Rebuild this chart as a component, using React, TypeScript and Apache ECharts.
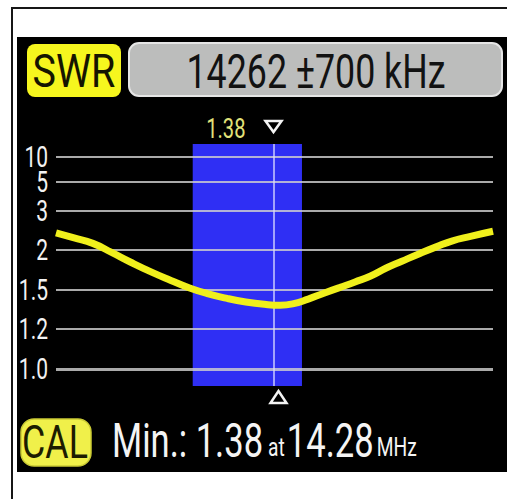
import React, { useEffect, useRef } from "react";
import * as echarts from "echarts";

// SWR axis: tick values, their labels and their heights on the analyser's display scale
const swrTicks = [1.0, 1.2, 1.5, 2, 3, 5, 10];
const swrTickLabels = ["1.0", "1.2", "1.5", "2", "3", "5", "10"];
const swrTickHeights = [0, 40, 79, 119, 158, 187, 212];

// Measured SWR curve
const freqMHz = [
  13.562, 13.62, 13.68, 13.74, 13.8, 13.87, 13.93, 13.99, 14.05, 14.11, 14.17, 14.23,
  14.28, 14.32, 14.37, 14.42, 14.47, 14.52, 14.57, 14.62, 14.67, 14.73, 14.78, 14.83,
  14.89, 14.962,
];
const swrValues = [
  2.44, 2.31, 2.17, 1.97, 1.85, 1.72, 1.62, 1.525, 1.47, 1.435, 1.408, 1.39,
  1.383, 1.393, 1.43, 1.475, 1.53, 1.6, 1.675, 1.775, 1.86, 1.96, 2.08, 2.23,
  2.35, 2.48,
];

const bandStartMHz = 14.0;
const bandEndMHz = 14.35;
const centerKHz = 14262;
const spanKHz = 700;
const markerSwr = 1.38;
const minSwr = 1.38;
const minFreqMHz = 14.28;

function toScale(v: number): number {
  for (let i = 0; i < swrTicks.length - 1; i++) {
    if (v <= swrTicks[i + 1] || i === swrTicks.length - 2) {
      const t0 = swrTicks[i];
      const t1 = swrTicks[i + 1];
      return (
        swrTickHeights[i] +
        ((v - t0) / (t1 - t0)) * (swrTickHeights[i + 1] - swrTickHeights[i])
      );
    }
  }
  return 0;
}

const FONT = "Roboto";

function txt(
  text: string,
  x: number,
  y: number,
  fs: number,
  color: string,
  align: string,
  sx = 0.75
) {
  return {
    type: "text",
    x,
    y,
    scaleX: sx,
    z: 30,
    silent: true,
    style: {
      text,
      fontSize: fs,
      fontFamily: FONT,
      fill: color,
      align,
      verticalAlign: "middle",
      textAlign: align,
      textVerticalAlign: "middle",
    },
  };
}

export default function App() {
  const ref = useRef<HTMLDivElement>(null);

  useEffect(() => {
    if (!ref.current) return;
    const chart = echarts.init(ref.current, null, { renderer: "svg" });
    const xMin = (centerKHz - spanKHz) / 1000;
    const xMax = (centerKHz + spanKHz) / 1000;
    const centerMHz = centerKHz / 1000;

    chart.setOption({
      animation: false,
      backgroundColor: "#ffffff",
      grid: { left: 56, right: 14, top: 144, bottom: 113 },
      xAxis: { type: "value", min: xMin, max: xMax, show: false },
      yAxis: { type: "value", min: -17, max: 225, show: false },
      series: [
        {
          type: "line",
          data: [],
          z: 1,
          markArea: {
            silent: true,
            z: 1,
            itemStyle: { color: "#2f2ff4" },
            data: [[{ xAxis: bandStartMHz }, { xAxis: bandEndMHz }]],
          },
          markLine: {
            silent: true,
            z: 3,
            symbol: "none",
            label: { show: false },
            data: [
              ...swrTicks.map((t, i) => ({
                yAxis: toScale(t),
                lineStyle: {
                  color: "#d0d0d0",
                  width: i === 0 ? 3 : 2,
                  type: "solid",
                  opacity: 0.82,
                },
              })),
              {
                xAxis: centerMHz,
                lineStyle: { color: "#dcdcff", width: 1.5, type: "solid", opacity: 0.9 },
              },
            ],
          },
        },
        {
          type: "line",
          z: 10,
          smooth: 0.5,
          symbol: "none",
          lineStyle: { color: "#f0f01c", width: 7 },
          data: freqMHz.map((f, i) => [f, toScale(swrValues[i])]),
        },
      ],
    });

    const ctx = document.createElement("canvas").getContext("2d")!;
    const measure = (t: string, fs: number) => {
      ctx.font = `${fs}px ${FONT}`;
      return ctx.measureText(t).width;
    };

    const cx = (chart.convertToPixel({ gridIndex: 0 }, [centerMHz, 0]) as number[])[0];
    const yLabelEls = swrTicks.map((t, i) => {
      const py = (chart.convertToPixel({ gridIndex: 0 }, [xMin, toScale(t)]) as number[])[1];
      return txt(swrTickLabels[i], 48, py, 30, "#f2f2f2", "right", 0.7);
    });

    // bottom line
    const sBig = 0.72;
    const sSmall = 0.74;
    const big = 48;
    const small = 26;
    const baseY = 457;
    const yBig = baseY - 0.355 * big;
    const ySmall = baseY - 0.355 * small;
    const t1 = `Min.: ${minSwr.toFixed(2)}`;
    const t2 = "at";
    const t3 = minFreqMHz.toFixed(2);
    const t4 = "MHz";
    let xc = 112;
    const x1 = xc;
    xc += measure(t1, big) * sBig + 5;
    const x2 = xc;
    xc += measure(t2, small) * sSmall + 2;
    const x3 = xc;
    xc += measure(t3, big) * sBig + 3;
    const x4 = xc;

    chart.setOption({
      graphic: {
        elements: [
          // white device frame
          {
            type: "polyline",
            z: 0,
            silent: true,
            shape: { points: [[12, 499], [12, 8], [507, 8]] },
            style: { stroke: "#161616", lineWidth: 2, fill: null },
          },
          // black screen
          {
            type: "rect",
            z: 0,
            silent: true,
            shape: { x: 17, y: 37, width: 490, height: 435 },
            style: { fill: "#000000" },
          },
          // SWR badge
          {
            type: "rect",
            z: 20,
            silent: true,
            shape: { x: 27, y: 44, width: 94, height: 53, r: 8 },
            style: { fill: "#f6f61e" },
          },
          txt("SWR", 74, 71, 47, "#151500", "center", 0.84),
          // frequency box
          {
            type: "rect",
            z: 20,
            silent: true,
            shape: { x: 129, y: 43, width: 373, height: 53, r: 10 },
            style: { fill: "#bcbdbc", stroke: "#e6e6e6", lineWidth: 2 },
          },
          txt(`${centerKHz} ±${spanKHz} kHz`, 316, 71, 49, "#121212", "center", 0.73),
          // marker value
          txt(markerSwr.toFixed(2), cx - 29, 128, 28, "#e2e27a", "right", 0.72),
          {
            type: "polygon",
            z: 30,
            silent: true,
            shape: { points: [[cx - 9, 121], [cx + 7, 121], [cx - 1, 132]] },
            style: { fill: null, stroke: "#f4f4f4", lineWidth: 2.5 },
          },
          {
            type: "polygon",
            z: 30,
            silent: true,
            shape: { points: [[cx - 4, 403], [cx + 12, 403], [cx + 4, 391]] },
            style: { fill: null, stroke: "#f4f4f4", lineWidth: 2.5 },
          },
          ...yLabelEls,
          // CAL badge
          {
            type: "rect",
            z: 20,
            silent: true,
            shape: { x: 21, y: 419, width: 70, height: 47, r: 13 },
            style: { fill: "#f0f04a", stroke: "#caca34", lineWidth: 1.5 },
          },
          txt("CAL", 55, 442, 47, "#1c1c00", "center", 0.76),
          txt(t1, x1, yBig, big, "#f4f4f4", "left", sBig),
          txt(t2, x2, ySmall, small, "#f4f4f4", "left", sSmall),
          txt(t3, x3, yBig, big, "#f4f4f4", "left", sBig),
          txt(t4, x4, ySmall, small, "#f4f4f4", "left", sSmall),
        ],
      },
    });

    return () => chart.dispose();
  }, []);

  return (
    <div
      ref={ref}
      style={{ position: "fixed", left: 0, top: 0, width: 507, height: 499 }}
    />
  );
}
